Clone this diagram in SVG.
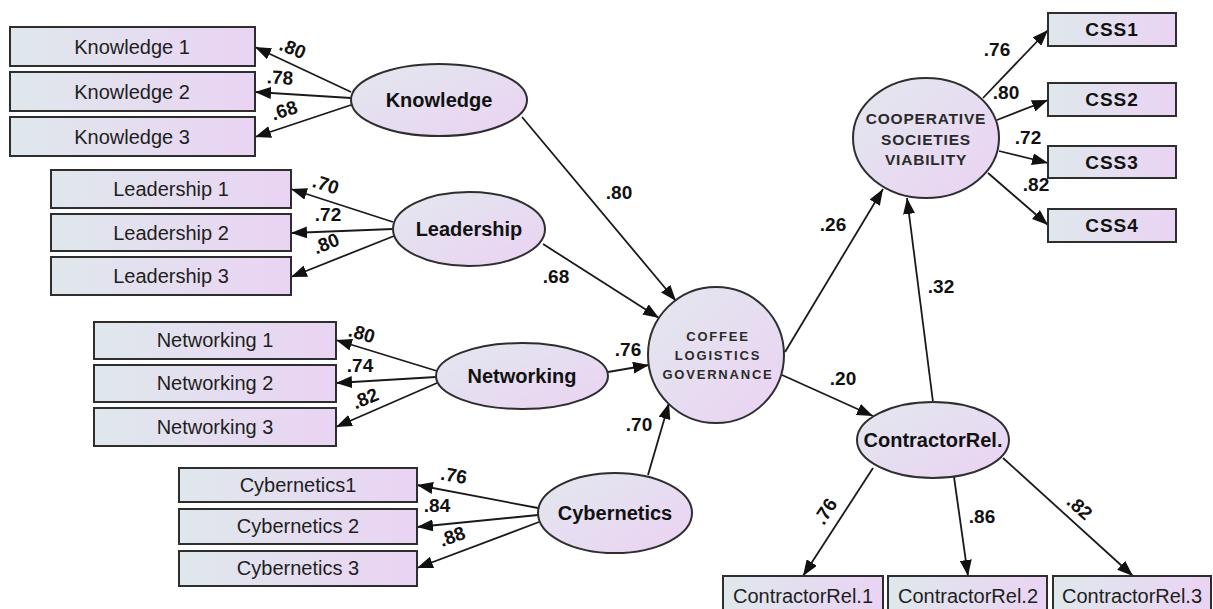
<svg xmlns="http://www.w3.org/2000/svg" width="1213" height="609" viewBox="0 0 1213 609">
<defs>
<linearGradient id="gb" x1="0" y1="0" x2="1" y2="0">
<stop offset="0" stop-color="#dfe8ec"/>
<stop offset="1" stop-color="#ead3f3"/>
</linearGradient>
<linearGradient id="ge" x1="0" y1="0" x2="1" y2="1">
<stop offset="0" stop-color="#e2e8ee"/>
<stop offset="1" stop-color="#ebd2f3"/>
</linearGradient>
<marker id="ah" markerUnits="userSpaceOnUse" markerWidth="17" markerHeight="12" refX="16" refY="6" orient="auto">
<path d="M0,0 L16,6 L0,12 z" fill="#111"/>
</marker>
</defs>
<style>
.box{fill:url(#gb);stroke:#2e2e2e;stroke-width:2}
.ell{fill:url(#ge);stroke:#2e2e2e;stroke-width:2}
.bt{font-family:"Liberation Sans",Arial,sans-serif;font-size:20px;fill:#1e1e1e;text-anchor:middle}
.bb{font-family:"Liberation Sans",Arial,sans-serif;font-size:19px;font-weight:bold;fill:#111;text-anchor:middle;letter-spacing:1px}
.et{font-family:"Liberation Sans",Arial,sans-serif;font-size:20px;font-weight:bold;fill:#111;text-anchor:middle}
.ct{font-family:"Liberation Sans",Arial,sans-serif;font-size:13px;font-weight:bold;fill:#2a2a2a;text-anchor:middle;letter-spacing:1.8px}
.vt{font-family:"Liberation Sans",Arial,sans-serif;font-size:15.5px;font-weight:bold;fill:#2a2a2a;text-anchor:middle;letter-spacing:0.8px}
.c line{stroke:#1a1a1a;stroke-width:1.8;marker-end:url(#ah)}
.lb{font-family:"Liberation Sans",Arial,sans-serif;font-size:19px;font-weight:bold;fill:#111;text-anchor:middle}
</style>
<rect width="1213" height="609" fill="#ffffff"/>

<g id="connectors" class="c">
<line x1="351" y1="92" x2="255" y2="47"/>
<line x1="351" y1="98" x2="255" y2="92"/>
<line x1="351" y1="105" x2="255" y2="137"/>
<line x1="393" y1="222" x2="291" y2="189"/>
<line x1="393" y1="229" x2="291" y2="233"/>
<line x1="394" y1="236" x2="291" y2="277"/>
<line x1="437" y1="371" x2="336" y2="340"/>
<line x1="436" y1="377" x2="336" y2="383"/>
<line x1="437" y1="383" x2="336" y2="427"/>
<line x1="538" y1="508" x2="417" y2="485"/>
<line x1="538" y1="515" x2="417" y2="527"/>
<line x1="539" y1="522" x2="417" y2="568"/>
<line x1="522" y1="117" x2="676" y2="301"/>
<line x1="543" y1="244" x2="659" y2="318"/>
<line x1="608" y1="372" x2="649" y2="365"/>
<line x1="648" y1="475" x2="669" y2="403"/>
<line x1="785" y1="352" x2="883" y2="189"/>
<line x1="782" y1="375" x2="873" y2="416"/>
<line x1="933" y1="402" x2="907" y2="198"/>
<line x1="983" y1="98" x2="1048" y2="30"/>
<line x1="997" y1="120" x2="1048" y2="100"/>
<line x1="999" y1="151" x2="1048" y2="163"/>
<line x1="988" y1="173" x2="1048" y2="225"/>
<line x1="873" y1="468" x2="803" y2="576"/>
<line x1="954" y1="477" x2="968" y2="576"/>
<line x1="1003" y1="458" x2="1133" y2="576"/>
</g>

<g id="labels">
<text class="lb" x="293" y="55" transform="rotate(22 293 48)">.80</text>
<text class="lb" x="280" y="84" transform="rotate(3 280 77)">.78</text>
<text class="lb" x="284" y="117" transform="rotate(-18 284 110)">.68</text>
<text class="lb" x="326" y="191" transform="rotate(18 326 184)">.70</text>
<text class="lb" x="328" y="221">.72</text>
<text class="lb" x="326" y="250" transform="rotate(-22 326 243)">.80</text>
<text class="lb" x="362" y="340" transform="rotate(16 362 333)">.80</text>
<text class="lb" x="360" y="372">.74</text>
<text class="lb" x="365" y="405" transform="rotate(-23 365 398)">.82</text>
<text class="lb" x="454" y="482" transform="rotate(10 454 475)">.76</text>
<text class="lb" x="437" y="512">.84</text>
<text class="lb" x="452" y="543" transform="rotate(-20 452 536)">.88</text>
<text class="lb" x="619" y="199">.80</text>
<text class="lb" x="556" y="283">.68</text>
<text class="lb" x="628" y="356">.76</text>
<text class="lb" x="639" y="431">.70</text>
<text class="lb" x="833" y="231">.26</text>
<text class="lb" x="843" y="385">.20</text>
<text class="lb" x="941" y="293">.32</text>
<text class="lb" x="997" y="56">.76</text>
<text class="lb" x="1006" y="99">.80</text>
<text class="lb" x="1028" y="144">.72</text>
<text class="lb" x="1036" y="191">.82</text>
<text class="lb" x="825" y="518" transform="rotate(-57 825 511)">.76</text>
<text class="lb" x="982" y="523">.86</text>
<text class="lb" x="1080" y="514" transform="rotate(42 1080 507)">.82</text>
</g>

<g id="knowledge1"><rect class="box" x="10" y="27" width="245" height="39"/><text class="bt" x="132" y="54">Knowledge 1</text></g>
<g id="knowledge2"><rect class="box" x="10" y="72" width="245" height="39"/><text class="bt" x="132" y="99">Knowledge 2</text></g>
<g id="knowledge3"><rect class="box" x="10" y="117" width="245" height="39"/><text class="bt" x="132" y="144">Knowledge 3</text></g>
<g id="leadership1"><rect class="box" x="51" y="170" width="240" height="38"/><text class="bt" x="171" y="196">Leadership 1</text></g>
<g id="leadership2"><rect class="box" x="51" y="214" width="240" height="37"/><text class="bt" x="171" y="240">Leadership 2</text></g>
<g id="leadership3"><rect class="box" x="51" y="257" width="240" height="38"/><text class="bt" x="171" y="283">Leadership 3</text></g>
<g id="networking1"><rect class="box" x="94" y="322" width="242" height="37"/><text class="bt" x="215" y="347">Networking 1</text></g>
<g id="networking2"><rect class="box" x="94" y="365" width="242" height="37"/><text class="bt" x="215" y="390">Networking 2</text></g>
<g id="networking3"><rect class="box" x="94" y="408" width="242" height="38"/><text class="bt" x="215" y="434">Networking 3</text></g>
<g id="cybernetics1"><rect class="box" x="179" y="468" width="238" height="34"/><text class="bt" x="298" y="492">Cybernetics1</text></g>
<g id="cybernetics2"><rect class="box" x="179" y="509" width="238" height="35"/><text class="bt" x="298" y="533">Cybernetics 2</text></g>
<g id="cybernetics3"><rect class="box" x="179" y="551" width="238" height="35"/><text class="bt" x="298" y="575">Cybernetics 3</text></g>
<g id="css1"><rect class="box" x="1048" y="13" width="128" height="33"/><text class="bb" x="1112" y="36">CSS1</text></g>
<g id="css2"><rect class="box" x="1048" y="83" width="128" height="33"/><text class="bb" x="1112" y="106">CSS2</text></g>
<g id="css3"><rect class="box" x="1048" y="146" width="128" height="32"/><text class="bb" x="1112" y="169">CSS3</text></g>
<g id="css4"><rect class="box" x="1048" y="209" width="128" height="33"/><text class="bb" x="1112" y="232">CSS4</text></g>
<g id="contractorrel1"><rect class="box" x="723" y="576" width="160" height="40"/><text class="bt" x="803" y="603">ContractorRel.1</text></g>
<g id="contractorrel2"><rect class="box" x="888" y="576" width="159" height="40"/><text class="bt" x="968" y="603">ContractorRel.2</text></g>
<g id="contractorrel3"><rect class="box" x="1053" y="576" width="158" height="40"/><text class="bt" x="1132" y="603">ContractorRel.3</text></g>

<g id="knowledge"><ellipse class="ell" cx="439" cy="100" rx="88" ry="36"/><text class="et" x="439" y="107">Knowledge</text></g>
<g id="leadership"><ellipse class="ell" cx="469" cy="229" rx="76" ry="37"/><text class="et" x="469" y="236">Leadership</text></g>
<g id="networking"><ellipse class="ell" cx="522" cy="376" rx="86" ry="33"/><text class="et" x="522" y="383">Networking</text></g>
<g id="cybernetics"><ellipse class="ell" cx="615" cy="513" rx="77" ry="40"/><text class="et" x="615" y="520">Cybernetics</text></g>
<g id="coffee"><circle class="ell" cx="716" cy="355" r="68"/>
<text class="ct" x="718" y="341">COFFEE</text><text class="ct" x="718" y="360">LOGISTICS</text><text class="ct" x="718" y="379">GOVERNANCE</text></g>
<g id="cooperative"><ellipse class="ell" cx="926" cy="138" rx="73" ry="60"/>
<text class="vt" x="926" y="124">COOPERATIVE</text><text class="vt" x="926" y="145">SOCIETIES</text><text class="vt" x="926" y="165">VIABILITY</text></g>
<g id="contractorrel"><ellipse class="ell" cx="933" cy="440" rx="76" ry="38"/><text class="et" x="933" y="447">ContractorRel.</text></g>
</svg>
